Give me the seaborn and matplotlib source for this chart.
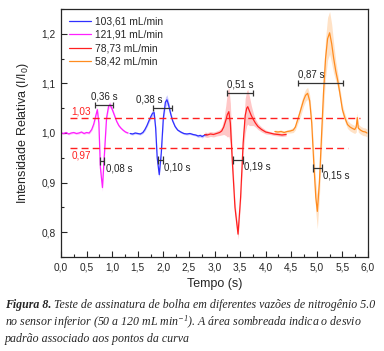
# -*- coding:utf-8 -*-

import numpy as np
import pandas as pd
import matplotlib
matplotlib.use("Agg")
import matplotlib.pyplot as plt
from matplotlib.ticker import MultipleLocator
import seaborn as sns

# Data
series = ["103,61 mL/min", "121,91 mL/min", "78,73 mL/min", "58,42 mL/min"]
colors = ["#2f2fff", "#ff1fff", "#ff2020", "#ff8c1f"]

t_mag = [0.00, 0.05, 0.10, 0.15, 0.20, 0.25, 0.30, 0.35, 0.40, 0.45, 0.50, 0.55,
         0.60, 0.64, 0.68, 0.71, 0.74, 0.77, 0.81, 0.85, 0.89, 0.93, 0.96, 1.00,
         1.05, 1.09, 1.13, 1.17, 1.21, 1.26, 1.31]
y_mag = [1.000, 0.999, 1.001, 0.998, 1.000, 1.001, 0.999, 1.000, 1.002, 0.999, 1.001, 1.000,
         1.007, 1.018, 1.035, 1.047, 1.020, 0.930, 0.890, 0.960, 1.030, 1.054, 1.057, 1.048,
         1.034, 1.023, 1.015, 1.010, 1.006, 1.002, 1.000]
sd_mag = [0.002, 0.002, 0.002, 0.002, 0.002, 0.002, 0.002, 0.002, 0.002, 0.002, 0.002, 0.002,
          0.003, 0.004, 0.005, 0.006, 0.006, 0.008, 0.008, 0.008, 0.006, 0.006, 0.006, 0.005,
          0.004, 0.003, 0.003, 0.002, 0.002, 0.002, 0.002]

t_blu = [1.35, 1.40, 1.45, 1.50, 1.55, 1.60, 1.64, 1.68, 1.72, 1.76, 1.79, 1.82,
         1.85, 1.88, 1.92, 1.96, 2.00, 2.04, 2.07, 2.10, 2.14, 2.18, 2.23, 2.28,
         2.34, 2.40, 2.46, 2.52, 2.58, 2.63, 2.68, 2.72, 2.76, 2.81, 2.85]
y_blu = [0.999, 0.998, 1.000, 0.999, 0.998, 1.001, 1.007, 1.015, 1.025, 1.034, 1.040, 1.041,
         1.010, 0.950, 0.916, 0.960, 1.030, 1.062, 1.067, 1.058, 1.040, 1.025, 1.013, 1.006,
         1.002, 0.999, 0.998, 0.999, 0.997, 0.996, 0.994, 0.995, 0.993, 0.996, 0.997]
sd_blu = [0.002, 0.002, 0.002, 0.002, 0.002, 0.002, 0.003, 0.003, 0.004, 0.005, 0.006, 0.006,
          0.006, 0.006, 0.006, 0.006, 0.008, 0.010, 0.010, 0.008, 0.006, 0.004, 0.003, 0.002,
          0.002, 0.002, 0.002, 0.002, 0.002, 0.002, 0.003, 0.003, 0.003, 0.002, 0.002]

t_red = [2.81, 2.86, 2.92, 2.98, 3.04, 3.10, 3.14, 3.18, 3.22, 3.25, 3.28, 3.31,
         3.35, 3.40, 3.46, 3.51, 3.56, 3.60, 3.63, 3.65, 3.68, 3.72, 3.76, 3.80,
         3.85, 3.92, 4.00, 4.08, 4.16, 4.24, 4.32, 4.40]
y_red = [0.997, 0.996, 0.998, 0.997, 0.999, 1.001, 1.004, 1.012, 1.025, 1.037, 1.043, 1.020,
         0.940, 0.850, 0.796, 0.870, 0.980, 1.035, 1.050, 1.053, 1.045, 1.035, 1.027, 1.020,
         1.013, 1.007, 1.002, 1.000, 0.998, 0.997, 0.996, 0.997]
sd_red = [0.005, 0.005, 0.005, 0.005, 0.005, 0.006, 0.008, 0.015, 0.030, 0.045, 0.050, 0.040,
          0.020, 0.012, 0.010, 0.012, 0.020, 0.035, 0.035, 0.035, 0.030, 0.020, 0.012, 0.008,
          0.006, 0.005, 0.004, 0.003, 0.003, 0.003, 0.003, 0.003]

t_ora = [4.18, 4.24, 4.30, 4.36, 4.42, 4.48, 4.54, 4.58, 4.62, 4.66, 4.70, 4.74,
         4.78, 4.82, 4.86, 4.90, 4.94, 4.98, 5.01, 5.05, 5.09, 5.13, 5.17, 5.21,
         5.25, 5.29, 5.33, 5.37, 5.41, 5.45, 5.50, 5.55, 5.60, 5.65, 5.70, 5.74,
         5.77, 5.79, 5.81, 5.85, 5.90, 5.95, 5.98]
y_ora = [1.003, 1.002, 1.003, 1.001, 1.003, 1.004, 1.006, 1.012, 1.025, 1.038, 1.052, 1.066,
         1.076, 1.080, 1.065, 1.020, 0.940, 0.870, 0.842, 0.900, 0.990, 1.080, 1.150, 1.190,
         1.202, 1.180, 1.150, 1.125, 1.105, 1.080, 1.047, 1.030, 1.017, 1.012, 1.009, 1.007,
         1.012, 1.031, 1.010, 1.006, 1.003, 1.002, 1.000]
sd_ora = [0.003, 0.003, 0.003, 0.003, 0.003, 0.004, 0.005, 0.006, 0.008, 0.010, 0.012, 0.012,
          0.012, 0.012, 0.012, 0.015, 0.025, 0.030, 0.035, 0.030, 0.030, 0.035, 0.040, 0.043,
          0.043, 0.040, 0.030, 0.020, 0.015, 0.012, 0.010, 0.008, 0.008, 0.008, 0.008, 0.008,
          0.010, 0.010, 0.008, 0.008, 0.008, 0.008, 0.008]

thresholds = [1.03, 0.97]
threshold_labels = ["1,03", "0,97"]

peak_labels = ["0,36 s", "0,38 s", "0,51 s", "0,87 s"]
peak_start = [0.66, 1.79, 3.24, 4.63]
peak_end = [1.02, 2.17, 3.75, 5.51]
peak_y = [1.057, 1.051, 1.081, 1.100]

dip_labels = ["0,08 s", "0,10 s", "0,19 s", "0,15 s"]
dip_start = [0.77, 1.89, 3.36, 4.93]
dip_end = [0.85, 1.99, 3.55, 5.10]
dip_y = [0.943, 0.945, 0.946, 0.929]

curves = {
    series[0]: (t_blu, y_blu, sd_blu),
    series[1]: (t_mag, y_mag, sd_mag),
    series[2]: (t_red, y_red, sd_red),
    series[3]: (t_ora, y_ora, sd_ora),
}
df = pd.concat(
    [pd.DataFrame({"t": v[0], "y": v[1], "sd": v[2], "serie": k}) for k, v in curves.items()],
    ignore_index=True,
)
palette = dict(zip(series, colors))

# Style
sns.set_style("ticks")
plt.rcParams["font.family"] = ["Liberation Sans", "DejaVu Sans"]
plt.rcParams["xtick.direction"] = "in"
plt.rcParams["ytick.direction"] = "in"

fig = plt.figure(figsize=(3.84, 3.51), dpi=100)
ax = fig.add_axes([61 / 384, 1 - 257 / 351, 307 / 384, 248 / 351])

# Shaded standard deviation
for name in series:
    d = df[df["serie"] == name]
    ax.fill_between(d["t"], d["y"] - d["sd"], d["y"] + d["sd"],
                    color=palette[name], alpha=0.25, linewidth=0)

sns.lineplot(data=df, x="t", y="y", hue="serie", hue_order=series,
             palette=palette, sort=False, estimator=None, linewidth=0.9, ax=ax)

# Threshold lines
ax.hlines(thresholds[0], 0.18, 5.84, colors="#ff2020", linestyles=(0, (5, 3)), linewidth=1.0)
ax.hlines(thresholds[1], 0.18, 5.60, colors="#ff2020", linestyles=(0, (5, 3)), linewidth=1.0)
ax.text(0.2, thresholds[0] + 0.013, threshold_labels[0], color="#ff2020", fontsize=7.2, va="center")
ax.text(0.2, thresholds[1] - 0.015, threshold_labels[1], color="#ff2020", fontsize=7.2, va="center")

# Width brackets
pk_c = [(a + b) / 2 for a, b in zip(peak_start, peak_end)]
pk_h = [(b - a) / 2 for a, b in zip(peak_start, peak_end)]
ax.errorbar(pk_c, peak_y, xerr=pk_h, fmt="none", ecolor="#333333",
            elinewidth=0.9, capsize=2.5, capthick=0.9)
dp_c = [(a + b) / 2 for a, b in zip(dip_start, dip_end)]
dp_h = [(b - a) / 2 for a, b in zip(dip_start, dip_end)]
ax.errorbar(dp_c, dip_y, xerr=dp_h, fmt="none", ecolor="#333333",
            elinewidth=0.9, capsize=3, capthick=0.9)

peak_text_x = [pk_c[0], 1.73, pk_c[2], peak_start[3]]
peak_ha = ["center", "center", "center", "left"]
for lab, x, y, ha in zip(peak_labels, peak_text_x, peak_y, peak_ha):
    ax.text(x, y + 0.007, lab, fontsize=7, ha=ha, va="bottom", color="#222222")
for lab, x, y in zip(dip_labels, dip_end, dip_y):
    ax.text(x + 0.03, y - 0.014, lab, fontsize=7, ha="left", va="center", color="#222222")

# Axes
ax.set_xlim(0, 6.0)
ax.set_ylim(0.75, 1.25)
ax.xaxis.set_major_locator(MultipleLocator(0.5))
ax.xaxis.set_minor_locator(MultipleLocator(0.25))
ax.yaxis.set_major_locator(MultipleLocator(0.1))
ax.yaxis.set_minor_locator(MultipleLocator(0.05))
ax.xaxis.set_major_formatter(lambda v, p: f"{v:.1f}".replace(".", ","))
ax.yaxis.set_major_formatter(lambda v, p: f"{v:.1f}".replace(".", ","))
ax.tick_params(which="major", length=4, width=0.8, labelsize=7.3, pad=4)
ax.tick_params(which="minor", length=2, width=0.8)
for s in ax.spines.values():
    s.set_linewidth(0.9)
ax.set_xlabel("Tempo (s)", fontsize=9, labelpad=4)
ax.set_ylabel(r"Intensidade Relativa (I/I$\mathregular{_0}$)", fontsize=9, labelpad=7)

leg = ax.legend(loc="upper left", frameon=False, fontsize=7.4, handlelength=2.2,
                labelspacing=0.32, borderaxespad=0.35, handletextpad=0.4)

# Caption
cap_kw = dict(family="Liberation Serif", style="italic", fontsize=8.6, va="center")
renderer = fig.canvas.get_renderer()
t0 = fig.text(5 / 384, 1 - 305 / 351, "Figura 8.", fontweight="bold", **cap_kw)
bb = t0.get_window_extent(renderer)
fig.text(bb.x1 / 384 + 3 / 384, 1 - 305 / 351,
         "Teste de assinatura de bolha em diferentes vazões de nitrogênio 5.0", **cap_kw)
fig.text(5 / 384, 1 - 322 / 351,
         r"no sensor inferior (50 a 120 mL min$\mathregular{^{-1}}$). A área sombreada indica o desvio",
         **cap_kw)
fig.text(5 / 384, 1 - 339 / 351, "padrão associado aos pontos da curva", **cap_kw)

plt.savefig("out.png", dpi=100)
